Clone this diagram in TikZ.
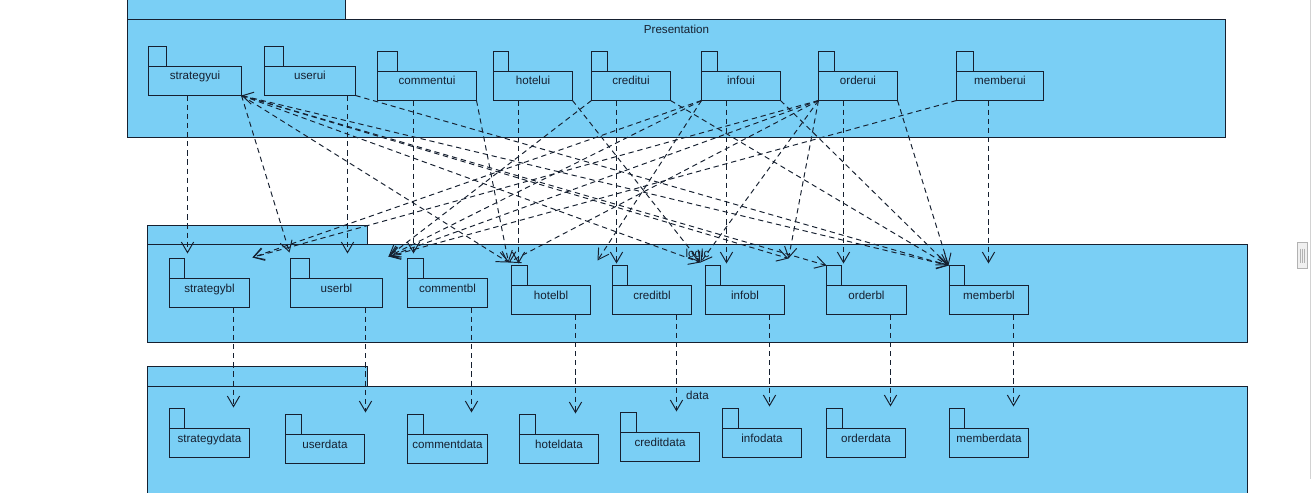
\documentclass[tikz,border=0pt]{standalone}
\usepackage{fontspec}
\setmainfont{Liberation Sans}
\usetikzlibrary{arrows.meta,positioning}
\newdimen\pxu \pxu=0.02cm
\definecolor{pkgblue}{RGB}{122,207,245}
\definecolor{inkc}{RGB}{22,32,48}

\begin{document}
\begin{tikzpicture}[
  x=0.02cm, y=-0.02cm,
  >={Straight Barb[length=6pt,width=7pt]},
  every node/.style={font=\fontsize{6.6}{7.8}\selectfont, text=inkc, inner sep=0pt},
  layer/.style={draw=inkc, fill=pkgblue, line width=0.55pt, anchor=north west, outer sep=0pt},
  pkg/.style={draw=inkc, fill=pkgblue, line width=0.55pt, anchor=north west, outer sep=0pt,
    minimum height=29\pxu, text height=8\pxu, text depth=10\pxu},
  pkgtab/.style={draw=inkc, fill=pkgblue, line width=0.55pt},
  dep/.style={draw=inkc, ->, line width=0.55pt, dash pattern=on 3pt off 2.2pt}
]
\useasboundingbox (-0.5,-0.5) rectangle (1311.5,492.5);
\clip (-0.5,-0.5) rectangle (1311.5,492.5);

\node[layer, minimum width=218\pxu, minimum height=30\pxu] (ptab) at (127,-11) {};
\node[layer, minimum width=1098\pxu, minimum height=118\pxu] (presentation) at (127,19) {};
\node[below=5\pxu of presentation.north] (ptitle) {Presentation};

\node[layer, minimum width=220\pxu, minimum height=19\pxu] (ltab) at (147,225) {};
\node[layer, minimum width=1100\pxu, minimum height=98\pxu] (logic) at (147,244) {};
\node[below=4\pxu of logic.north] (ltitle) {logic};

\node[layer, minimum width=220\pxu, minimum height=20\pxu] (dtab) at (147,366) {};
\node[layer, minimum width=1100\pxu, minimum height=130\pxu] (data) at (147,386) {};
\node[below=4\pxu of data.north] (dtitle) {data};

\node[pkg, minimum width=93\pxu] (strategyui) at (148,66) {strategyui};
\node[pkg, minimum width=91\pxu] (userui) at (264,66) {userui};
\node[pkg, minimum width=99\pxu] (commentui) at (377,71) {commentui};
\node[pkg, minimum width=79\pxu] (hotelui) at (493,71) {hotelui};
\node[pkg, minimum width=79\pxu] (creditui) at (591,71) {creditui};
\node[pkg, minimum width=79\pxu] (infoui) at (701,71) {infoui};
\node[pkg, minimum width=79\pxu] (orderui) at (818,71) {orderui};
\node[pkg, minimum width=87\pxu] (memberui) at (956,71) {memberui};
\draw[pkgtab] (strategyui.north west) rectangle ++(18,-20);
\draw[pkgtab] (userui.north west) rectangle ++(19,-20);
\draw[pkgtab] (commentui.north west) rectangle ++(20,-20);
\draw[pkgtab] (hotelui.north west) rectangle ++(15,-20);
\draw[pkgtab] (creditui.north west) rectangle ++(16,-20);
\draw[pkgtab] (infoui.north west) rectangle ++(16,-20);
\draw[pkgtab] (orderui.north west) rectangle ++(16,-20);
\draw[pkgtab] (memberui.north west) rectangle ++(17,-20);

\node[pkg, minimum width=80\pxu] (strategybl) at (169,278) {strategybl};
\node[pkg, minimum width=92\pxu] (userbl) at (290,278) {userbl};
\node[pkg, minimum width=80\pxu] (commentbl) at (407,278) {commentbl};
\node[pkg, minimum width=79\pxu] (hotelbl) at (511,285) {hotelbl};
\node[pkg, minimum width=79\pxu] (creditbl) at (612,285) {creditbl};
\node[pkg, minimum width=79\pxu] (infobl) at (705,285) {infobl};
\node[pkg, minimum width=80\pxu] (orderbl) at (826,285) {orderbl};
\node[pkg, minimum width=79\pxu] (memberbl) at (949,285) {memberbl};
\draw[pkgtab] (strategybl.north west) rectangle ++(15,-20);
\draw[pkgtab] (userbl.north west) rectangle ++(19,-20);
\draw[pkgtab] (commentbl.north west) rectangle ++(16,-20);
\draw[pkgtab] (hotelbl.north west) rectangle ++(16,-20);
\draw[pkgtab] (creditbl.north west) rectangle ++(15,-20);
\draw[pkgtab] (infobl.north west) rectangle ++(15,-20);
\draw[pkgtab] (orderbl.north west) rectangle ++(15,-20);
\draw[pkgtab] (memberbl.north west) rectangle ++(15,-20);

\node[pkg, minimum width=80\pxu] (strategydata) at (169,428) {strategydata};
\node[pkg, minimum width=79\pxu] (userdata) at (285,434) {userdata};
\node[pkg, minimum width=80\pxu] (commentdata) at (407,434) {commentdata};
\node[pkg, minimum width=79\pxu] (hoteldata) at (519,434) {hoteldata};
\node[pkg, minimum width=79\pxu] (creditdata) at (620,432) {creditdata};
\node[pkg, minimum width=79\pxu] (infodata) at (722,428) {infodata};
\node[pkg, minimum width=79\pxu] (orderdata) at (826,428) {orderdata};
\node[pkg, minimum width=79\pxu] (memberdata) at (949,428) {memberdata};
\draw[pkgtab] (strategydata.north west) rectangle ++(15,-20);
\draw[pkgtab] (userdata.north west) rectangle ++(16,-20);
\draw[pkgtab] (commentdata.north west) rectangle ++(16,-20);
\draw[pkgtab] (hoteldata.north west) rectangle ++(16,-20);
\draw[pkgtab] (creditdata.north west) rectangle ++(16,-20);
\draw[pkgtab] (infodata.north west) rectangle ++(16,-20);
\draw[pkgtab] (orderdata.north west) rectangle ++(16,-20);
\draw[pkgtab] (memberdata.north west) rectangle ++(15,-20);

\coordinate (v1) at (187,253);
\coordinate (v2) at (347,253);
\coordinate (v3) at (413,253);
\coordinate (v4) at (518,263);
\coordinate (v5) at (616,263);
\coordinate (v6) at (726,263);
\coordinate (v7) at (843,263);
\coordinate (v8) at (988,263);
\draw[dep] (strategyui.south -| v1) -- (v1);
\draw[dep] (userui.south -| v2) -- (v2);
\draw[dep] (commentui.south -| v3) -- (v3);
\draw[dep] (hotelui.south -| v4) -- (v4);
\draw[dep] (creditui.south -| v5) -- (v5);
\draw[dep] (infoui.south -| v6) -- (v6);
\draw[dep] (orderui.south -| v7) -- (v7);
\draw[dep] (memberui.south -| v8) -- (v8);

\coordinate (d1) at (233,407);
\coordinate (d2) at (365,412);
\coordinate (d3) at (471,412);
\coordinate (d4) at (575,413);
\coordinate (d5) at (676,411);
\coordinate (d6) at (769,406);
\coordinate (d7) at (890,406);
\coordinate (d8) at (1013,406);
\draw[dep] (strategybl.south -| d1) -- (d1);
\draw[dep] (userbl.south -| d2) -- (d2);
\draw[dep] (commentbl.south -| d3) -- (d3);
\draw[dep] (hotelbl.south -| d4) -- (d4);
\draw[dep] (creditbl.south -| d5) -- (d5);
\draw[dep] (infobl.south -| d6) -- (d6);
\draw[dep] (orderbl.south -| d7) -- (d7);
\draw[dep] (memberbl.south -| d8) -- (d8);

\coordinate (tu) at (289,252);
\coordinate (th) at (508,262);
\coordinate (ti) at (700,262);
\coordinate (to) at (826,265);
\coordinate (tm) at (948,265);
\coordinate (tx) at (252,257);
\coordinate (ty) at (388,256);
\coordinate (tc) at (597,260);
\coordinate (tz) at (788,258);
\draw[dep] (strategyui.south east) -- (tu);
\draw[dep] (strategyui.south east) -- (th);
\draw[dep] (strategyui.south east) -- (ti);
\draw[dep] (strategyui.south east) -- (to);
\draw[dep] (strategyui.south east) -- (tz);
\draw[dep, <->] (strategyui.south east) -- (tm);
\draw[dep] (userui.south east) -- (tm);
\draw[dep] (commentui.south east) -- (th);
\draw[dep] (hotelui.south east) -- (ti);
\draw[dep] (creditui.south west) -- (ty);
\draw[dep] (creditui.south east) -- (tm);
\draw[dep] (infoui.south west) -- (tc);
\draw[dep] (infoui.south west) -- (ty);
\draw[dep] (infoui.south west) -- (tx);
\draw[dep] (infoui.south east) -- (tm);
\draw[dep] (orderui.south west) -- (tx);
\draw[dep] (orderui.south west) -- (ty);
\draw[dep] (orderui.south west) -- (th);
\draw[dep] (orderui.south west) -- (ti);
\draw[dep] (orderui.south west) -- (tz);
\draw[dep] (orderui.south east) -- (tm);
\draw[dep] (memberui.south west) -- (ty);

\draw[gray!35, line width=0.5pt] (1310,0) -- (1310,478);
\draw[gray!60, fill=gray!12, line width=0.4pt] (1297,242) rectangle (1307,268);
\draw[gray!60, line width=0.3pt] (1300,248) -- (1300,262) (1302,248) -- (1302,262) (1304,248) -- (1304,262);
\end{tikzpicture}
\end{document}
